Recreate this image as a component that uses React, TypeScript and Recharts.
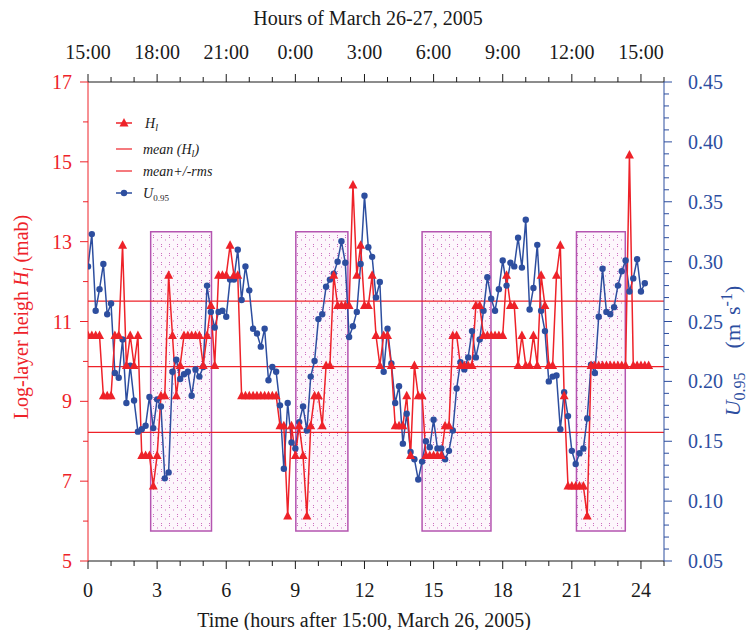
import React from 'react';
import { ComposedChart, Line, XAxis, YAxis, ReferenceArea, ReferenceLine } from 'recharts';

document.body.style.margin = '0';

// records every 10 minutes, starting 15:00 March 26
const SAMPLE_HOURS = 1 / 6;

// log-layer height H_l (m above bed)
const HL = [
  10.65, 10.65, 10.65, 10.65, 9.14, 9.14, 9.14, 10.65, 10.65, 12.91,
  9.9, 10.65, 9.9, 10.65, 7.64, 7.64, 7.64, 6.88, 7.64, 9.14,
  9.14, 12.16, 10.65, 9.14, 9.9, 10.65, 10.65, 10.65, 10.65, 10.65,
  9.9, 10.65, 11.4, 9.9, 12.16, 12.16, 12.16, 12.91, 12.16, 12.16,
  9.14, 9.14, 9.14, 9.14, 9.14, 9.14, 9.14, 9.14, 9.14, 9.14,
  8.39, 8.39, 6.13, 8.39, 7.64, 8.39, 7.64, 6.13, 8.39, 9.14,
  9.14, 8.39, 9.9, 9.9, 12.16, 11.4, 11.4, 11.4, 11.4, 14.42,
  12.16, 12.91, 11.4, 11.4, 12.16, 10.65, 9.9, 10.65, 10.65, 9.9,
  8.39, 8.39, 8.39, 9.14, 7.64, 9.9, 9.14, 9.14, 7.64, 7.64,
  7.64, 7.64, 7.64, 8.39, 8.39, 10.65, 10.65, 9.9, 9.9, 9.9,
  9.9, 11.4, 11.4, 10.65, 10.65, 10.65, 10.65, 10.65, 10.65, 12.16,
  11.4, 11.4, 9.9, 10.65, 9.9, 9.9, 10.65, 9.9, 12.16, 11.4,
  9.9, 9.9, 12.16, 12.91, 9.14, 6.88, 6.88, 6.88, 6.88, 6.88,
  6.13, 9.9, 9.9, 9.9, 9.9, 9.9, 9.9, 9.9, 9.9, 9.9,
  9.9, 15.17, 9.9, 9.9, 9.9, 9.9, 9.9,
];

// U_0.95 (m/s)
const U95 = [
  0.296, 0.323, 0.259, 0.277, 0.298, 0.256, 0.265, 0.207, 0.203, 0.235,
  0.182, 0.213, 0.184, 0.158, 0.160, 0.163, 0.187, 0.161, 0.185, 0.179,
  0.119, 0.124, 0.208, 0.218, 0.202, 0.206, 0.208, 0.188, 0.210, 0.204,
  0.212, 0.280, 0.258, 0.245, 0.258, 0.259, 0.254, 0.285, 0.285, 0.310,
  0.268, 0.296, 0.276, 0.244, 0.240, 0.229, 0.244, 0.201, 0.212, 0.208,
  0.180, 0.127, 0.182, 0.149, 0.144, 0.166, 0.179, 0.159, 0.204, 0.217,
  0.252, 0.256, 0.279, 0.285, 0.290, 0.300, 0.317, 0.299, 0.237, 0.246,
  0.258, 0.298, 0.355, 0.312, 0.304, 0.270, 0.283, 0.208, 0.244, 0.215,
  0.182, 0.196, 0.148, 0.173, 0.141, 0.135, 0.118, 0.133, 0.150, 0.145,
  0.168, 0.144, 0.144, 0.135, 0.142, 0.159, 0.194, 0.216, 0.210, 0.220,
  0.242, 0.220, 0.235, 0.259, 0.287, 0.269, 0.259, 0.277, 0.301, 0.280,
  0.299, 0.296, 0.320, 0.295, 0.335, 0.260, 0.278, 0.314, 0.259, 0.242,
  0.200, 0.204, 0.205, 0.160, 0.191, 0.171, 0.142, 0.131, 0.140, 0.144,
  0.169, 0.214, 0.207, 0.254, 0.294, 0.258, 0.256, 0.262, 0.280, 0.292,
  0.301, 0.275, 0.286, 0.302, 0.275, 0.282,
];

const MEAN_HL = 9.87;
const MEAN_PLUS_RMS = 11.51;
const MEAN_MINUS_RMS = 8.22;

// shaded boxes (hours)
const BOX_START = [2.72, 9.02, 14.5, 21.2];
const BOX_END = [5.36, 11.28, 17.49, 23.32];
const BOX_TOP = 13.25;
const BOX_BOTTOM = 5.75;

const HOUR_TICKS = [0, 1, 2, 3, 4, 5, 6, 7, 8, 9, 10, 11, 12, 13, 14, 15, 16, 17, 18, 19, 20, 21, 22, 23, 24, 25];
const HL_TICKS = [5, 6, 7, 8, 9, 10, 11, 12, 13, 14, 15, 16, 17];
const U_TICKS = [
  0.05, 0.06, 0.07, 0.08, 0.09, 0.1, 0.11, 0.12, 0.13, 0.14, 0.15, 0.16, 0.17, 0.18, 0.19, 0.2,
  0.21, 0.22, 0.23, 0.24, 0.25, 0.26, 0.27, 0.28, 0.29, 0.3, 0.31, 0.32, 0.33, 0.34, 0.35,
  0.36, 0.37, 0.38, 0.39, 0.4, 0.41, 0.42, 0.43, 0.44, 0.45,
];

const rows = HL.map((h, i) => ({ t: i * SAMPLE_HOURS, hl: h, u: U95[i] }));

const FONT = '"Liberation Serif", "Times New Roman", serif';
const FS = 20;
const RED = '#ee2229';
const BLUE = '#2d4e9f';
const BOX = '#b455b0';
const INK = '#1a1a1a';

const BottomTick = ({ x, y, payload }: any) => {
  const v = payload.value;
  const major = v % 3 === 0;
  return (
    <g>
      <line x1={x} x2={x} y1={y} y2={y + (major ? 8 : 5)} stroke={INK} strokeWidth={1} />
      {major && (
        <text x={x} y={y + 36} textAnchor="middle" fontFamily={FONT} fontSize={FS} fill={INK}>
          {v}
        </text>
      )}
    </g>
  );
};

const TopTick = ({ x, y, payload }: any) => {
  const v = payload.value;
  const major = v % 3 === 0;
  return (
    <g>
      <line x1={x} x2={x} y1={y} y2={y - (major ? 8 : 5)} stroke={INK} strokeWidth={1} />
      {major && (
        <text x={x} y={y - 23} textAnchor="middle" fontFamily={FONT} fontSize={FS} fill={INK}>
          {`${(15 + v) % 24}:00`}
        </text>
      )}
    </g>
  );
};

const LeftTick = ({ x, y, payload }: any) => {
  const v = payload.value;
  const major = v % 2 === 1;
  return (
    <g>
      <line x1={x} x2={x - (major ? 8 : 5)} y1={y} y2={y} stroke={RED} strokeWidth={1} />
      {major && (
        <text x={x - 16} y={y + 7} textAnchor="end" fontFamily={FONT} fontSize={FS} fill={RED}>
          {v}
        </text>
      )}
    </g>
  );
};

const RightTick = ({ x, y, payload }: any) => {
  const v = payload.value;
  const major = Math.round(v * 100) % 5 === 0;
  return (
    <g>
      <line x1={x} x2={x + (major ? 8 : 5)} y1={y} y2={y} stroke={BLUE} strokeWidth={1} />
      {major && (
        <text x={x + 24} y={y + 7} textAnchor="start" fontFamily={FONT} fontSize={FS} fill={BLUE}>
          {v.toFixed(2)}
        </text>
      )}
    </g>
  );
};

const triangleDot = (p: any) => {
  const { cx, cy, index } = p;
  if (cx == null || cy == null) return <g key={`t${index}`} />;
  return (
    <path
      key={`t${index}`}
      d={`M${cx},${cy - 5} L${cx + 4.5},${cy + 3.5} L${cx - 4.5},${cy + 3.5} Z`}
      fill={RED}
      stroke="none"
    />
  );
};

const roundDot = (p: any) => {
  const { cx, cy, index } = p;
  if (cx == null || cy == null) return <g key={`c${index}`} />;
  return <circle key={`c${index}`} cx={cx} cy={cy} r={3.2} fill={BLUE} stroke="none" />;
};

export default function App() {
  return (
    <div style={{ position: 'relative', width: 751, height: 630, background: '#fff' }}>
      <ComposedChart width={751} height={630} data={rows} margin={{ top: 0, right: 0, bottom: 0, left: 0 }}>
        <defs>
          <pattern id="stipple" width="8" height="9" patternUnits="userSpaceOnUse">
            <rect width="8" height="9" fill="#fdf6fc" />
            <rect x="1" y="1" width="1" height="1" fill="#cc6fbf" />
            <rect x="1" y="3" width="1" height="1" fill="#cc6fbf" />
            <rect x="5" y="5.5" width="1" height="1" fill="#cc6fbf" />
          </pattern>
        </defs>
        <XAxis
          xAxisId="bottom"
          dataKey="t"
          type="number"
          domain={[0, 25]}
          ticks={HOUR_TICKS}
          interval={0}
          allowDataOverflow
          height={69}
          tickSize={0}
          tickMargin={0}
          tick={<BottomTick />}
          stroke={INK}
        />
        <XAxis
          xAxisId="top"
          dataKey="t"
          orientation="top"
          type="number"
          domain={[0, 25]}
          ticks={HOUR_TICKS}
          interval={0}
          allowDataOverflow
          height={82}
          tickSize={0}
          tickMargin={0}
          tick={<TopTick />}
          stroke={INK}
        />
        <YAxis
          yAxisId="H"
          type="number"
          domain={[5, 17]}
          ticks={HL_TICKS}
          interval={0}
          allowDataOverflow
          width={88}
          tickSize={0}
          tickMargin={0}
          tick={<LeftTick />}
          stroke={RED}
        />
        <YAxis
          yAxisId="U"
          orientation="right"
          type="number"
          domain={[0.05, 0.45]}
          ticks={U_TICKS}
          interval={0}
          allowDataOverflow
          width={87}
          tickSize={0}
          tickMargin={0}
          tick={<RightTick />}
          stroke={BLUE}
        />
        {BOX_START.map((x1, i) => (
          <ReferenceArea
            key={`box${i}`}
            xAxisId="bottom"
            yAxisId="H"
            x1={x1}
            x2={BOX_END[i]}
            y1={BOX_BOTTOM}
            y2={BOX_TOP}
            fill="url(#stipple)"
            fillOpacity={1}
            stroke={BOX}
            strokeWidth={1.5}
          />
        ))}
        <ReferenceLine xAxisId="bottom" yAxisId="H" y={MEAN_PLUS_RMS} stroke={RED} strokeWidth={1.2} />
        <ReferenceLine xAxisId="bottom" yAxisId="H" y={MEAN_HL} stroke={RED} strokeWidth={1.2} />
        <ReferenceLine xAxisId="bottom" yAxisId="H" y={MEAN_MINUS_RMS} stroke={RED} strokeWidth={1.2} />
        <Line
          xAxisId="bottom"
          yAxisId="U"
          type="linear"
          dataKey="u"
          stroke={BLUE}
          strokeWidth={1.5}
          dot={roundDot}
          activeDot={false}
          isAnimationActive={false}
        />
        <Line
          xAxisId="bottom"
          yAxisId="H"
          type="linear"
          dataKey="hl"
          stroke={RED}
          strokeWidth={1.5}
          dot={triangleDot}
          activeDot={false}
          isAnimationActive={false}
        />
      </ComposedChart>

      <svg
        width={751}
        height={630}
        style={{ position: 'absolute', left: 0, top: 0, pointerEvents: 'none' }}
        fontFamily={FONT}
      >
        <text x={368} y={25} textAnchor="middle" fontSize={FS} fill={INK}>
          Hours of March 26-27, 2005
        </text>
        <text x={364} y={627} textAnchor="middle" fontSize={FS} fill={INK}>
          Time (hours after 15:00, March 26, 2005)
        </text>
        <text x={28} y={317} transform="rotate(-90, 28, 317)" textAnchor="middle" fontSize={FS} fill={RED}>
          Log-layer heigh{' '}
          <tspan fontStyle="italic">H</tspan>
          <tspan fontStyle="italic" fontSize={14} dy={5}>l</tspan>
          <tspan dy={-5}> (mab)</tspan>
        </text>
        <text x={740} y={351} transform="rotate(-90, 740, 351)" textAnchor="middle" fontSize={22} fill={BLUE}>
          <tspan fontStyle="italic">U</tspan>
          <tspan fontSize={16} dy={5}>0.95</tspan>
          <tspan dy={-5} dx={24}>(m</tspan>
          <tspan dx={9}>s</tspan>
          <tspan fontSize={16} dy={-8}>-1</tspan>
          <tspan dy={8}>)</tspan>
        </text>

        {/* legend */}
        <g fontStyle="italic" fontSize={14} fill={INK}>
          <line x1={116} x2={132} y1={123} y2={123} stroke={RED} strokeWidth={1.5} />
          <path d="M124,118 L128.5,126.5 L119.5,126.5 Z" fill={RED} />
          <text x={145} y={128}>
            H<tspan fontSize={10} dy={3}>l</tspan>
          </text>

          <line x1={116} x2={132} y1={149} y2={149} stroke={RED} strokeWidth={1.2} />
          <text x={143} y={154}>
            mean (H<tspan fontSize={10} dy={3}>l</tspan>
            <tspan dy={-3}>)</tspan>
          </text>

          <line x1={116} x2={132} y1={171} y2={171} stroke={RED} strokeWidth={1.2} />
          <text x={143} y={176}>mean+/-rms</text>

          <line x1={116} x2={132} y1={193} y2={193} stroke={BLUE} strokeWidth={1.5} />
          <circle cx={124} cy={193} r={3.2} fill={BLUE} />
          <text x={143} y={198}>
            U<tspan fontStyle="normal" fontSize={9} dy={3}>0.95</tspan>
          </text>
        </g>
      </svg>
    </div>
  );
}
